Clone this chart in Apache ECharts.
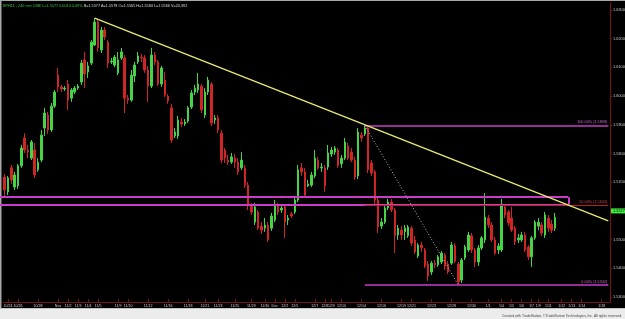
<!DOCTYPE html>
<html><head><meta charset="utf-8">
<script src="https://cdn.jsdelivr.net/npm/echarts@6/dist/echarts.min.js"></script>
<style>html,body{margin:0;padding:0;background:#000;overflow:hidden}#c{width:625px;height:319px}</style>
</head><body><div id="c"></div>
<script>
// ---- data (BPH11, 240 min bars) ----
const opens = [
1.5718,1.5666,1.5750,1.5683,1.5687,1.5757,1.5854,1.5812,1.5784,1.5812,
1.5743,1.5777,1.5889,1.5934,1.5882,1.5965,1.6073,1.6032,1.6025,1.6042,
1.5993,1.6014,1.6028,1.6049,1.6126,1.6084,1.6115,1.6178,1.6258,1.6161,
1.6230,1.6188,1.6119,1.6108,1.6081,1.6133,1.6133,1.5993,1.5986,1.6070,
1.6119,1.6136,1.6133,1.6091,1.6035,1.6143,1.6119,1.6042,1.6056,1.6000,
1.5959,1.5861,1.5861,1.5910,1.5903,1.5913,1.5962,1.6014,1.6021,1.6035,
1.5934,1.6014,1.6042,1.5917,1.5924,1.5871,1.5812,1.5777,1.5770,1.5784,
1.5770,1.5750,1.5750,1.5690,1.5617,1.5561,1.5596,1.5547,1.5540,1.5551,
1.5540,1.5568,1.5617,1.5603,1.5614,1.5568,1.5589,1.5596,1.5638,1.5750,
1.5736,1.5687,1.5690,1.5722,1.5777,1.5750,1.5750,1.5753,1.5798,1.5805,
1.5812,1.5764,1.5784,1.5826,1.5805,1.5777,1.5722,1.5864,1.5868,1.5889,
1.5767,1.5736,1.5638,1.5547,1.5561,1.5610,1.5631,1.5603,1.5516,1.5533,
1.5527,1.5513,1.5540,1.5499,1.5443,1.5481,1.5464,1.5415,1.5387,1.5418,
1.5412,1.5422,1.5446,1.5415,1.5418,1.5478,1.5415,1.5359,1.5436,1.5464,
1.5513,1.5464,1.5422,1.5471,1.5499,1.5575,1.5551,1.5499,1.5464,1.5464,
1.5614,1.5596,1.5575,1.5540,1.5499,1.5499,1.5516,1.5474,1.5440,1.5506,
1.5547,1.5551,1.5516,1.5575,1.5554,1.5540];
const closes = [
1.5673,1.5715,1.5708,1.5725,1.5757,1.5819,1.5812,1.5805,1.5840,1.5725,
1.5770,1.5864,1.5941,1.5882,1.5965,1.6014,1.6032,1.6025,1.6028,1.5986,
1.6021,1.6028,1.6035,1.6115,1.6077,1.6105,1.6188,1.6258,1.6168,1.6230,
1.6206,1.6115,1.6122,1.6136,1.6126,1.6154,1.5993,1.5986,1.6073,1.6108,
1.6140,1.6133,1.6091,1.6035,1.6143,1.6119,1.6042,1.6098,1.6004,1.5983,
1.5847,1.5875,1.5917,1.5903,1.5910,1.5959,1.6011,1.6028,1.6042,1.5952,
1.6014,1.6056,1.5906,1.5924,1.5882,1.5777,1.5784,1.5770,1.5788,1.5770,
1.5736,1.5777,1.5690,1.5621,1.5596,1.5614,1.5540,1.5533,1.5551,1.5499,
1.5582,1.5624,1.5596,1.5610,1.5561,1.5575,1.5582,1.5638,1.5743,1.5736,
1.5655,1.5694,1.5725,1.5784,1.5750,1.5753,1.5687,1.5802,1.5812,1.5819,
1.5757,1.5784,1.5840,1.5784,1.5777,1.5718,1.5875,1.5854,1.5889,1.5743,
1.5732,1.5638,1.5544,1.5561,1.5610,1.5631,1.5603,1.5513,1.5540,1.5516,
1.5540,1.5544,1.5488,1.5457,1.5481,1.5471,1.5408,1.5373,1.5418,1.5412,
1.5440,1.5453,1.5408,1.5387,1.5481,1.5425,1.5352,1.5429,1.5474,1.5516,
1.5464,1.5422,1.5471,1.5506,1.5579,1.5551,1.5499,1.5453,1.5478,1.5621,
1.5586,1.5558,1.5533,1.5492,1.5506,1.5516,1.5464,1.5440,1.5506,1.5561,
1.5561,1.5523,1.5586,1.5540,1.5533,1.5577];
const lows = [
1.5652,1.5655,1.5694,1.5673,1.5676,1.5750,1.5802,1.5784,1.5777,1.5715,
1.5736,1.5770,1.5861,1.5868,1.5875,1.5959,1.6014,1.6014,1.6018,1.5952,
1.5980,1.6007,1.6021,1.6039,1.6028,1.6063,1.6108,1.6175,1.6154,1.6150,
1.6195,1.6098,1.6112,1.6101,1.6073,1.6126,1.5941,1.5973,1.5980,1.6049,
1.6112,1.6119,1.6081,1.5980,1.6028,1.6108,1.6035,1.6032,1.5997,1.5973,
1.5837,1.5854,1.5851,1.5892,1.5896,1.5906,1.5955,1.6004,1.6011,1.5941,
1.5924,1.6004,1.5896,1.5903,1.5871,1.5767,1.5767,1.5760,1.5764,1.5750,
1.5725,1.5743,1.5680,1.5603,1.5586,1.5551,1.5533,1.5520,1.5527,1.5492,
1.5530,1.5561,1.5586,1.5593,1.5506,1.5551,1.5575,1.5589,1.5631,1.5722,
1.5648,1.5683,1.5683,1.5715,1.5743,1.5736,1.5666,1.5743,1.5788,1.5795,
1.5750,1.5750,1.5777,1.5777,1.5770,1.5708,1.5711,1.5840,1.5861,1.5732,
1.5722,1.5621,1.5523,1.5537,1.5554,1.5603,1.5596,1.5453,1.5499,1.5499,
1.5499,1.5506,1.5478,1.5450,1.5436,1.5457,1.5401,1.5356,1.5377,1.5401,
1.5405,1.5415,1.5394,1.5380,1.5412,1.5418,1.5342,1.5349,1.5429,1.5457,
1.5453,1.5405,1.5408,1.5464,1.5488,1.5540,1.5492,1.5446,1.5450,1.5457,
1.5575,1.5547,1.5527,1.5481,1.5488,1.5492,1.5457,1.5429,1.5405,1.5499,
1.5533,1.5513,1.5506,1.5527,1.5523,1.5530];
const highs = [
1.5729,1.5722,1.5760,1.5736,1.5764,1.5830,1.5871,1.5830,1.5847,1.5837,
1.5784,1.5882,1.5959,1.5945,1.5976,1.6021,1.6098,1.6039,1.6035,1.6056,
1.6028,1.6035,1.6042,1.6126,1.6154,1.6119,1.6195,1.6272,1.6265,1.6241,
1.6241,1.6195,1.6133,1.6143,1.6154,1.6168,1.6143,1.6004,1.6091,1.6119,
1.6154,1.6147,1.6143,1.6105,1.6168,1.6154,1.6126,1.6105,1.6084,1.6007,
1.5973,1.5889,1.5931,1.5924,1.5920,1.5965,1.6021,1.6039,1.6081,1.6042,
1.6028,1.6067,1.6049,1.5934,1.5934,1.5882,1.5819,1.5795,1.5802,1.5798,
1.5784,1.5805,1.5760,1.5701,1.5628,1.5628,1.5603,1.5561,1.5575,1.5561,
1.5593,1.5638,1.5628,1.5624,1.5624,1.5586,1.5596,1.5645,1.5760,1.5767,
1.5750,1.5708,1.5736,1.5812,1.5788,1.5767,1.5760,1.5830,1.5823,1.5826,
1.5819,1.5795,1.5854,1.5837,1.5819,1.5788,1.5889,1.5875,1.5898,1.5892,
1.5777,1.5743,1.5645,1.5575,1.5621,1.5642,1.5642,1.5610,1.5551,1.5547,
1.5551,1.5551,1.5547,1.5513,1.5488,1.5492,1.5471,1.5425,1.5425,1.5429,
1.5446,1.5460,1.5453,1.5425,1.5492,1.5488,1.5422,1.5436,1.5481,1.5527,
1.5523,1.5471,1.5481,1.5513,1.5662,1.5586,1.5561,1.5509,1.5488,1.5642,
1.5624,1.5603,1.5614,1.5547,1.5520,1.5527,1.5527,1.5481,1.5513,1.5568,
1.5575,1.5561,1.5596,1.5586,1.5568,1.5593];

const dateLabels = ['10/24','10/26','10/28','Nov','11/2','11/3','11/4','11/5','11/9','11/10','11/12','11/16','11/18','11/21','11/23','11/25','11/29','11/30','Dec','12/2','12/5','12/7','12/8','12/9','12/10','12/14','12/16','12/19','12/21','12/23','12/28','12/30','1/1','1/4','1/5','1/6','1/7','1/9','1/11','1/12','1/13','1/14','1/18'];
const dateBars = [1,4,10,16,19,22,25,28,34,37,43,49,55,60,64,69,74,78,81,84,87,93,96,98,101,107,113,119,122,128,134,140,145,149,152,155,158,160,163,167,170,173,179];
const futureSlots = 16;

const lastPrice = 1.5577;
const fibLevels = [1.5898, 1.5620, 1.5342];     // 100%, 50%, 0%
const fibNames = ['100.00%', '50.00%', '0.00%'];
const fibStartBar = 108, fibLowBar = 136;
const trendStart = [27, 1.6272], trendEndPrice = 1.5565;
const zoneTop = 1.5648, zoneBottom = 1.5622, zoneEndBar = 169;
const priceMin = 1.52826, priceMax = 1.63244;

const titleMain = 'BPH11 - 240 min CME L=1.5577 0.0014 0.09%';
const titleQuote = 'B=1.5577 A=1.5578 O=1.5565 H=1.5584 L=1.5566 V=20,392';
const copyright = 'Created with TradeStation. \u00A9TradeStation Technologies, Inc. All rights reserved.';

// ---- build ----
const UP = '#44d444', DOWN = '#d02525', AX = '#7a1414', MAG = '#c83cc8', TXT = '#d0d0d0';
const FONT = 'Liberation Sans, Arial, sans-serif';
const candles = opens.map((o, i) => [o, closes[i], lows[i], highs[i]]);
const categories = Array.from({length: opens.length + futureSlots}, (_, i) => String(i));
const lastSlot = categories.length - 1;
const labelAt = new Map(dateBars.map((b, i) => [b, dateLabels[i]]));
const fibColors = [MAG, '#b82020', MAG];

const fibLines = fibLevels.map((v, k) => [
  {coord: [fibStartBar, v], lineStyle: {color: fibColors[k], width: k === 1 ? 1 : 1.6, type: 'solid'},
   label: {show: true, position: 'insideEndTop', distance: 1, formatter: fibNames[k] + ' (' + v.toFixed(4) + ')',
           color: k === 1 ? '#d84040' : '#d060d0', fontSize: 3.8, fontFamily: FONT}},
  {coord: [lastSlot, v]}
]);
const zoneStyle = {color: MAG, width: 2, type: 'solid'};
const zoneLines = [
  [{coord: [0, zoneTop], x: '0%', lineStyle: zoneStyle}, {coord: [zoneEndBar, zoneTop]}],
  [{coord: [0, zoneBottom], x: '0%', lineStyle: zoneStyle}, {coord: [zoneEndBar, zoneBottom]}],
  [{coord: [zoneEndBar, zoneTop], lineStyle: zoneStyle}, {coord: [zoneEndBar, zoneBottom]}]
];

const chart = echarts.init(document.getElementById('c'), null, {renderer: 'canvas'});
chart.setOption({
  animation: false,
  backgroundColor: '#000',
  title: {
    left: 3, top: 4, padding: 0,
    text: '{g|' + titleMain + '} {w|' + titleQuote + '}',
    textStyle: {fontSize: 3.8, fontFamily: FONT, fontWeight: 'normal',
      rich: {g: {color: '#3cc03c', fontSize: 3.8, fontFamily: FONT}, w: {color: '#dcdcdc', fontSize: 3.8, fontFamily: FONT}}}
  },
  grid: {left: 3, right: 15, top: 3, bottom: 17, containLabel: false, outerBoundsMode: 'none'},
  xAxis: {
    type: 'category', data: categories, boundaryGap: true,
    axisLine: {show: true, lineStyle: {color: AX, width: 1}},
    axisTick: {show: true, inside: true, length: 3, alignWithLabel: true,
      interval: (i) => labelAt.has(i), lineStyle: {color: AX}},
    axisLabel: {interval: (i) => labelAt.has(i), formatter: (v, i) => labelAt.get(i) || '',
      color: TXT, fontSize: 3.6, margin: 2, fontFamily: FONT, hideOverlap: false},
    splitLine: {show: false}
  },
  yAxis: {
    type: 'value', position: 'right', min: priceMin, max: priceMax, splitNumber: 10,
    axisLine: {show: true, lineStyle: {color: AX, width: 1}},
    axisTick: {show: true, length: 2, lineStyle: {color: AX}},
    axisLabel: {color: TXT, fontSize: 3.9, margin: 3, fontFamily: FONT,
      formatter: (v) => v.toFixed(4), showMinLabel: false, showMaxLabel: false},
    splitLine: {show: false}
  },
  series: [{
    type: 'candlestick',
    data: candles,
    barWidth: 2,
    itemStyle: {color: UP, color0: DOWN, borderColor: UP, borderColor0: DOWN, borderWidth: 1},
    markLine: {
      silent: true, symbol: ['none', 'none'], animation: false,
      label: {show: false},
      data: [
        ...zoneLines,
        ...fibLines,
        [{coord: trendStart, lineStyle: {color: '#e8e870', width: 1.4, type: 'solid'}}, {coord: [lastSlot, trendEndPrice]}],
        [{coord: [fibStartBar, fibLevels[0]], lineStyle: {color: '#b8b8b8', width: 1, type: [1, 2]}}, {coord: [fibLowBar, fibLevels[2]]}],
        {yAxis: lastPrice, lineStyle: {color: 'rgba(0,0,0,0)', width: 0},
         label: {show: true, position: 'end', distance: 1, formatter: lastPrice.toFixed(4), color: '#000',
                 backgroundColor: '#3ef03e', padding: [1, 2, 0, 2], fontSize: 3.9, fontFamily: FONT}}
      ]
    }
  }],
  graphic: [
    {type: 'rect', silent: true, shape: {x: 0, y: 0, width: 625, height: 1}, style: {fill: '#a8a8a8'}},
    {type: 'rect', silent: true, shape: {x: 0, y: 0, width: 1.5, height: 308}, style: {fill: '#a8a8a8'}},
    {type: 'rect', silent: true, shape: {x: 0, y: 308.5, width: 625, height: 11}, style: {fill: '#ececec'}},
    {type: 'rect', silent: true, shape: {x: 0, y: 308, width: 625, height: 1}, style: {fill: '#c4c4c4'}},
    {type: 'text', silent: true, right: 3, top: 314.5,
     style: {text: copyright, fill: '#444', fontSize: 3.4, fontFamily: FONT}}
  ]
});
</script>
</body></html>
